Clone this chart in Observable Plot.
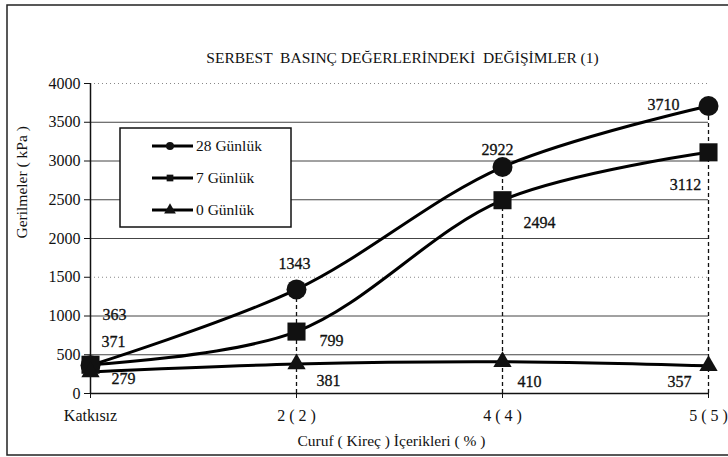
<!DOCTYPE html>
<html><head><meta charset="utf-8">
<script src="https://cdn.jsdelivr.net/npm/d3@7"></script>
<script src="https://cdn.jsdelivr.net/npm/@observablehq/plot@0.6"></script>
<style>body{margin:0;background:#fff}#chart{position:relative;width:728px;height:457px}
#chart svg, #chart svg text{font-family:'Liberation Serif','Times New Roman',serif !important}</style>
</head><body><div id="chart"></div>
<script>
// ---- data ----
const categories = ["Katkısız", "2 ( 2 )", "4 ( 4 )", "5 ( 5 )"];
const seriesNames = ["28 Günlük", "7 Günlük", "0 Günlük"];
const values28 = [363, 1343, 2922, 3710];
const values7 = [371, 799, 2494, 3112];
const values0 = [279, 381, 410, 357];
const yTicks = [0, 500, 1000, 1500, 2000, 2500, 3000, 3500, 4000];
const titleText = "SERBEST  BASINÇ DEĞERLERİNDEKİ  DEĞİŞİMLER (1)";
const xTitle = "Curuf ( Kireç ) İçerikleri ( % )";
const yTitle = "Gerilmeler ( kPa )";

// ---- styling (label offsets in px, marker sizes) ----
const labelOffsets = [
  [[24, -50], [-2, -26], [-5, -17], [-45, -1]],
  [[23, -23], [35, 9], [37, 23], [-23, 33]],
  [[33, 7], [32, 17], [27, 20], [-29, 16]]
];
const symbols = ["circle", "square", "triangle"];
const radii = [10, 10.2, 6.8];
const FONT = "'Liberation Serif', 'Times New Roman', serif";
const TXT = {fill: "#111", stroke: "#111", strokeWidth: 0.3, paintOrder: "fill", fontFamily: FONT};

const seriesValues = [values28, values7, values0];
const rows = [];
seriesValues.forEach((vals, s) => vals.forEach((v, i) =>
  rows.push({cat: categories[i], value: v, series: seriesNames[s], si: s, i})));

const solidGrid = [500, 1000, 2000, 2500, 3000, 3500];
const faintGrid = [1500, 4000];

const marks = [
  Plot.ruleY(solidGrid, {stroke: "#444", strokeWidth: 1}),
  Plot.ruleY(faintGrid, {stroke: "#888", strokeWidth: 1, strokeDasharray: "1,3"}),
  Plot.ruleX(rows.filter(d => d.si === 0 && d.i > 0), {x: "cat", y1: 0, y2: "value", stroke: "#111", strokeWidth: 1.3, strokeDasharray: "4,3"}),
  Plot.ruleY([0], {stroke: "#111", strokeWidth: 1.5}),
  Plot.ruleX([categories[0]], {y1: 0, y2: 4000, stroke: "#111", strokeWidth: 1.5}),
  Plot.axisY({ticks: yTicks, tickFormat: d => String(d), tickSize: 6, tickPadding: 4, label: null, fontSize: 16, stroke: "#111", fontFamily: FONT}),
  Plot.axisX({tickSize: 5, tickPadding: 11, label: null, fontSize: 16, stroke: "#111", fontFamily: FONT}),
  Plot.line(rows, {x: "cat", y: "value", z: "series", curve: "catmull-rom", stroke: "#000", strokeWidth: 3})
];
seriesNames.forEach((name, s) => {
  marks.push(Plot.dot(rows.filter(d => d.si === s), {x: "cat", y: "value", symbol: symbols[s], r: radii[s], fill: "#111", stroke: "none"}));
});
rows.forEach(d => {
  const [dx, dy] = labelOffsets[d.si][d.i];
  marks.push(Plot.text([d], {x: "cat", y: "value", text: d => String(d.value), dx, dy, fontSize: 16, ...TXT}));
});
marks.push(
  Plot.text([titleText], {frameAnchor: "top", dy: -25, dx: 3, lineAnchor: "middle", fontSize: 15.5, fill: "#111", fontFamily: FONT}),
  Plot.text([xTitle], {frameAnchor: "bottom", dy: 48, dx: -8, lineAnchor: "middle", fontSize: 15.5, fill: "#111", fontFamily: FONT}),
  Plot.text([yTitle], {frameAnchor: "left", dx: -68, rotate: -90, lineAnchor: "middle", fontSize: 15.5, fill: "#111", fontFamily: FONT})
);

const plot = Plot.plot({
  width: 728, height: 457,
  marginLeft: 90, marginRight: 20, marginTop: 83, marginBottom: 64,
  style: {fontFamily: FONT, fontSize: "15px", color: "#111", background: "#fff", overflow: "visible"},
  x: {type: "point", domain: categories, padding: 0},
  y: {domain: [0, 4000]},
  marks
});
document.getElementById("chart").appendChild(plot);

// outer border + legend
const svg = d3.select(plot);
svg.append("rect").attr("x", 7).attr("y", 5).attr("width", 740).attr("height", 450)
  .attr("fill", "none").attr("stroke", "#222").attr("stroke-width", 1.5);
const lg = svg.append("g").attr("font-family", FONT).attr("font-size", 15.5).attr("text-anchor", "start");
lg.append("rect").attr("x", 120).attr("y", 128).attr("width", 171).attr("height", 99)
  .attr("fill", "#fff").attr("stroke", "#111").attr("stroke-width", 1.5);
const d3sym = {circle: d3.symbolCircle, square: d3.symbolSquare, triangle: d3.symbolTriangle};
const legendSizes = [50, 45, 60];
seriesNames.forEach((name, s) => {
  const y = 146 + s * 32;
  lg.append("line").attr("x1", 152).attr("x2", 193).attr("y1", y).attr("y2", y).attr("stroke", "#000").attr("stroke-width", 3);
  lg.append("path").attr("d", d3.symbol(d3sym[symbols[s]], legendSizes[s])()).attr("transform", `translate(170,${y})`).attr("fill", "#111");
  lg.append("text").attr("x", 196).attr("y", y).attr("dy", "0.35em").attr("text-anchor", "start").attr("fill", "#111").text(name);
});
</script></body></html>
